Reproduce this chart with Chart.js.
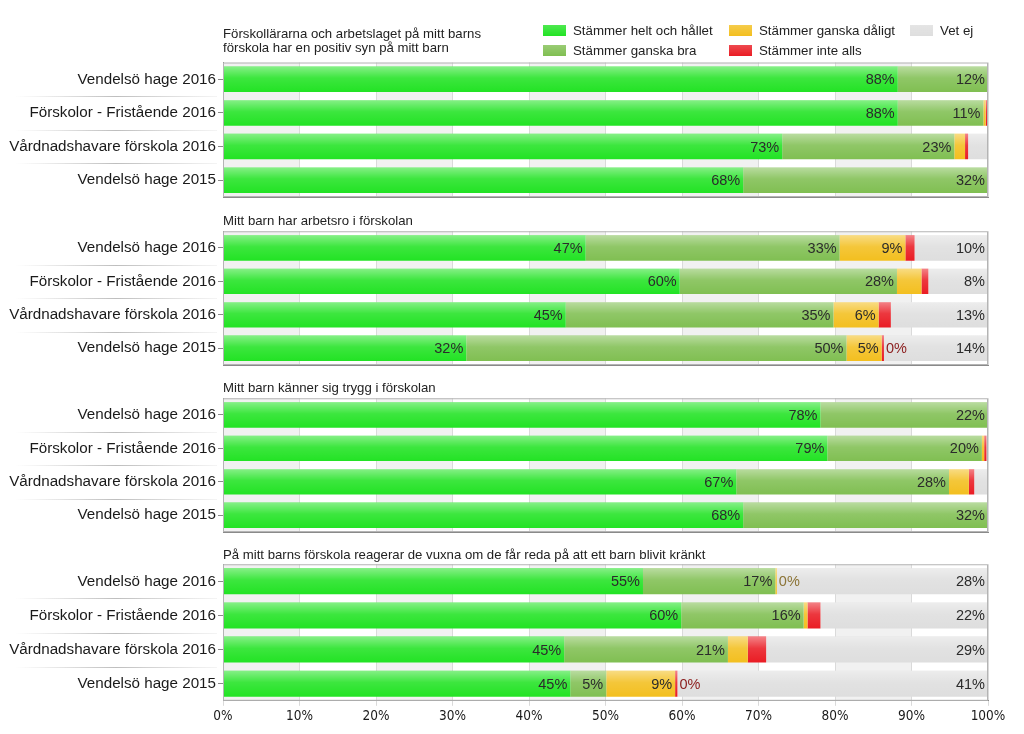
<!DOCTYPE html>
<html>
<head>
<meta charset="utf-8">
<script src="https://cdn.jsdelivr.net/npm/chart.js@4.4.1/dist/chart.umd.min.js"></script>
<style>
body { margin: 0; background: #fff; font-family: 'Liberation Sans', Arial, sans-serif; }
#wrap { position: relative; width: 1024px; height: 734px; overflow: hidden; }
.panel { position: absolute; left: 0; width: 1024px; }
#legend { position: absolute; left: 543px; top: 20px; display: grid;
  grid-template-columns: 186px 181px 80px; grid-template-rows: 20px 20px;
  grid-auto-flow: column; font-size: 13.3px; color: #222; }
.item { display: flex; align-items: center; white-space: nowrap; }
.sw { width: 23px; height: 11px; margin-right: 7px; }
</style>
</head>
<body>
<div id="wrap">
  <div class="panel" style="top:0;height:200px"><canvas id="c0"></canvas></div>
  <div class="panel" style="top:200px;height:167px"><canvas id="c1"></canvas></div>
  <div class="panel" style="top:367px;height:167px"><canvas id="c2"></canvas></div>
  <div class="panel" style="top:534px;height:200px"><canvas id="c3"></canvas></div>
  <div id="legend"></div>
</div>
<script>
// categories and series
const categories = ['Vendelsö hage 2016', 'Förskolor - Fristående 2016', 'Vårdnadshavare förskola 2016', 'Vendelsö hage 2015'];
const seriesNames = ['Stämmer helt och hållet', 'Stämmer ganska bra', 'Stämmer ganska dåligt', 'Stämmer inte alls', 'Vet ej'];
const panelTitles = [
    ['Förskollärarna och arbetslaget på mitt barns', 'förskola har en positiv syn på mitt barn'],
    'Mitt barn har arbetsro i förskolan',
    'Mitt barn känner sig trygg i förskolan',
    'På mitt barns förskola reagerar de vuxna om de får reda på att ett barn blivit kränkt'
];

// values in percent, one row per panel (rows follow categories)
const heltOchHallet = [[88.2, 88.2, 73.1, 68], [47.4, 59.7, 44.8, 31.8], [78.1, 79, 67.1, 68], [54.9, 59.9, 44.6, 45.4]];
const ganskaBra     = [[11.8, 11.2, 22.5, 32], [33.2, 28.4, 35, 49.7], [21.9, 20.2, 27.8, 32], [17.3, 16, 21.4, 4.7]];
const ganskaDaligt  = [[0, 0.3, 1.4, 0], [8.6, 3.2, 5.9, 4.6], [0, 0.3, 2.6, 0], [0.2, 0.5, 2.6, 9.0]];
const inteAlls      = [[0, 0.3, 0.4, 0], [1.2, 0.9, 1.6, 0.3], [0, 0.3, 0.7, 0], [0, 1.7, 2.4, 0.3]];
const vetEj         = [[0, 0, 2.6, 0], [9.6, 7.8, 12.7, 13.6], [0, 0.2, 1.8, 0], [27.6, 21.9, 29.0, 40.6]];

// tiny segments that still get a "0%" label: [panel, category, series]
const zeroLabels = [[1, 3, 3], [3, 0, 2], [3, 3, 3]];

const seriesColors = ['#22e324', '#80bf52', '#f3bf1f', '#ea1c24', '#dedede'];
const zeroTextColors = ['#2b2b2b', '#2b2b2b', '#8c7436', '#8b1c1c', '#2b2b2b'];
const xTicks = [0, 10, 20, 30, 40, 50, 60, 70, 80, 90, 100];

const allSeries = [heltOchHallet, ganskaBra, ganskaDaligt, inteAlls, vetEj];
const font = "'Liberation Sans', Arial, sans-serif";

// html legend, column-wise like the original
const legendEl = document.getElementById('legend');
seriesNames.forEach((name, i) => {
    legendEl.insertAdjacentHTML('beforeend',
        `<div class="item"><span class="sw" style="background:linear-gradient(${seriesColors[i]}cc, ${seriesColors[i]})"></span>${name}</div>`);
});

function makePlugins(p) {
    return [{
        id: 'bgBands',
        beforeDraw(chart) {
            const { ctx, chartArea: a } = chart;
            const xs = chart.scales.x;
            ctx.save();
            ctx.fillStyle = '#f1f1f1';
            for (let i = 0; i < xTicks.length - 1; i += 2) {
                const x0 = xs.getPixelForValue(xTicks[i]);
                const x1 = xs.getPixelForValue(xTicks[i + 1]);
                ctx.fillRect(x0, a.top, x1 - x0, a.bottom - a.top);
            }
            ctx.restore();
        },
        afterDatasetsDraw(chart) {
            const ctx = chart.ctx;
            // glossy top on every bar
            chart.data.datasets.forEach((ds, di) => {
                chart.getDatasetMeta(di).data.forEach(el => {
                    const { x, y, base, height } = el.getProps(['x', 'y', 'base', 'height'], true);
                    const w = x - base;
                    if (w <= 0) return;
                    const top = y - height / 2;
                    const g = ctx.createLinearGradient(0, top, 0, top + height);
                    g.addColorStop(0, 'rgba(255,255,255,0.45)');
                    g.addColorStop(0.45, 'rgba(255,255,255,0.12)');
                    g.addColorStop(1, 'rgba(255,255,255,0)');
                    ctx.fillStyle = g;
                    ctx.fillRect(base, top, w, height);
                });
            });
            // percent labels
            ctx.save();
            ctx.font = '14.5px ' + font;
            ctx.textBaseline = 'middle';
            chart.data.datasets.forEach((ds, di) => {
                chart.getDatasetMeta(di).data.forEach((el, i) => {
                    const v = ds.data[i];
                    const { x, y } = el.getProps(['x', 'y'], true);
                    const txt = Math.round(v) + '%';
                    if (v >= 4) {
                        ctx.textAlign = 'right';
                        ctx.fillStyle = '#2b2b2b';
                        ctx.fillText(txt, x - 3, y + 1);
                    } else if (v > 0 && zeroLabels.some(z => z[0] === p && z[1] === i && z[2] === di)) {
                        ctx.textAlign = 'left';
                        ctx.fillStyle = zeroTextColors[di];
                        ctx.fillText(txt, x + 2, y + 1);
                    }
                });
            });
            ctx.restore();
        },
        afterDraw(chart) {
            const { ctx, chartArea: a } = chart;
            const ys = chart.scales.y;
            ctx.save();
            ctx.strokeStyle = '#b4b4b4';
            ctx.lineWidth = 1;
            ctx.strokeRect(a.left + 0.5, a.top + 0.5, a.right - a.left - 1, a.bottom - a.top - 1);
            // separators between category labels
            for (let i = 0; i < categories.length - 1; i++) {
                const yy = Math.round((ys.getPixelForValue(i) + ys.getPixelForValue(i + 1)) / 2) + 0.5;
                const g = ctx.createLinearGradient(15, 0, a.left - 6, 0);
                g.addColorStop(0, 'rgba(200,200,200,0)');
                g.addColorStop(0.5, 'rgba(190,190,190,1)');
                g.addColorStop(1, 'rgba(200,200,200,0.2)');
                ctx.strokeStyle = g;
                ctx.beginPath();
                ctx.moveTo(15, yy);
                ctx.lineTo(a.left - 6, yy);
                ctx.stroke();
            }
            ctx.restore();
        }
    }];
}

const titlePadding = [{ top: 27, bottom: 7 }, { top: 14, bottom: 3 }, { top: 14, bottom: 3 }, { top: 14, bottom: 2 }];
const bottomPadding = [3, 2, 2, 6];

for (let p = 0; p < 4; p++) {
    const last = p === 3;
    new Chart(document.getElementById('c' + p), {
        type: 'bar',
        data: {
            labels: categories,
            datasets: seriesNames.map((name, s) => ({
                label: name,
                data: allSeries[s][p],
                backgroundColor: seriesColors[s],
                borderWidth: 0,
                categoryPercentage: 0.76,
                barPercentage: 1
            }))
        },
        options: {
            indexAxis: 'y',
            responsive: true,
            maintainAspectRatio: false,
            animation: false,
            layout: { padding: { left: 0, right: 36, bottom: bottomPadding[p], top: 0 } },
            plugins: {
                legend: { display: false },
                tooltip: { enabled: false },
                title: {
                    display: true,
                    text: panelTitles[p],
                    align: 'start',
                    fullSize: false,
                    color: '#222',
                    font: { family: font, size: 13.2, weight: 'normal', lineHeight: 1.08 },
                    padding: titlePadding[p]
                }
            },
            scales: {
                x: {
                    stacked: true,
                    min: 0,
                    max: 100,
                    afterFit: scale => { if (!last) scale.height = 0; },
                    ticks: {
                        display: last,
                        stepSize: 10,
                        color: '#1a1a1a',
                        padding: 3,
                        font: { family: "'DejaVu Sans Condensed', 'Liberation Sans Narrow', 'Liberation Sans', sans-serif", size: 13.5 },
                        callback: v => v + '%'
                    },
                    grid: { color: '#dadada', tickLength: last ? 5 : 0, drawTicks: last },
                    border: { color: '#8a8a8a' }
                },
                y: {
                    stacked: true,
                    afterFit: scale => {
                        scale.width = 223;
                        scale.paddingTop = 0;
                        scale.paddingBottom = 0;
                    },
                    ticks: { color: '#1a1a1a', padding: 2, font: { family: font, size: 15.2 } },
                    grid: { offset: false, drawOnChartArea: false, tickLength: 5, color: '#8a8a8a' },
                    border: { color: '#8a8a8a' }
                }
            }
        },
        plugins: makePlugins(p)
    });
}
</script>
</body>
</html>
